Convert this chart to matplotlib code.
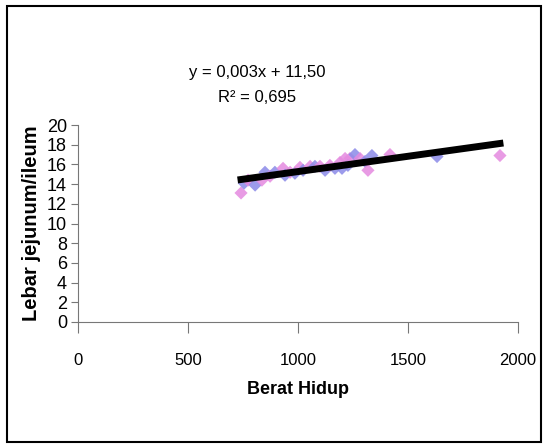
import numpy as np
import matplotlib
matplotlib.use('Agg')
import matplotlib.pyplot as plt
from matplotlib.patches import Rectangle

# Data
berat_hidup = [741, 755, 773, 805, 836, 850, 873, 895, 932, 941, 964, 986,
               1009, 1023, 1055, 1077, 1100, 1123, 1145, 1168, 1191, 1200,
               1214, 1227, 1236, 1259, 1282, 1305, 1318, 1336, 1418, 1632, 1918]
lebar = [13.1, 14.1, 14.4, 13.9, 14.4, 15.2, 14.8, 15.2, 15.6, 14.9, 15.2, 15.1,
         15.7, 15.4, 15.8, 15.8, 15.8, 15.4, 15.9, 15.6, 16.2, 15.6,
         16.6, 15.9, 16.6, 17.0, 16.6, 16.3, 15.4, 16.9, 17.0, 16.8, 16.9]
x_ticks = [0, 500, 1000, 1500, 2000]
y_ticks = list(range(0, 21, 2))
persamaan = 'y = 0,003x + 11,50'
r_kuadrat = 'R² = 0,695'

huruf = ['Liberation Sans', 'DejaVu Sans']

fig = plt.figure(figsize=(5.48, 4.47), dpi=100)
fig.patches.append(Rectangle((0.012, 0.012), 0.975, 0.975, transform=fig.transFigure,
                             fill=False, edgecolor='black', linewidth=1.5))

ax = fig.add_axes([78/548, 1 - 322/447, 440/548, 197/447])

# titik data, warna campur pink / biru
warna = ['#e58ae0' if i % 2 == 0 else '#8b8ae8' for i in range(len(berat_hidup))]
ax.scatter(berat_hidup, lebar, marker='D', s=45, c=warna, alpha=0.85,
           edgecolors='none', zorder=2)

# garis trend linear
koef = np.polyfit(berat_hidup, lebar, 1)
xs = np.array([min(berat_hidup), max(berat_hidup)])
ax.plot(xs, np.polyval(koef, xs), color='black', linewidth=5, zorder=3)

ax.set_xlim(0, 2000)
ax.set_ylim(0, 20)
ax.set_xticks(x_ticks)
ax.set_yticks(y_ticks)
ax.set_xticklabels([str(v) for v in x_ticks], family=huruf, fontsize=12)
ax.set_yticklabels([str(v) for v in y_ticks], family=huruf, fontsize=13)
ax.tick_params(axis='x', direction='out', length=8, pad=14, color='#777777')
ax.tick_params(axis='y', direction='out', length=5, pad=3, color='#777777')
ax.spines['top'].set_visible(False)
ax.spines['right'].set_visible(False)
ax.spines['left'].set_color('#777777')
ax.spines['bottom'].set_color('#777777')

ax.set_xlabel('Berat Hidup', family=huruf, fontsize=13, fontweight='bold', labelpad=10)
ax.set_ylabel('Lebar jejunum/ileum', family=huruf, fontsize=14.5,
              fontweight='bold', labelpad=4)

fig.text(257/548, 1 - 73/447, persamaan, family=huruf, fontsize=12,
         ha='center', va='center')
fig.text(257/548, 1 - 98/447, r_kuadrat, family=huruf, fontsize=12,
         ha='center', va='center')

fig.savefig('out.png', dpi=100)
